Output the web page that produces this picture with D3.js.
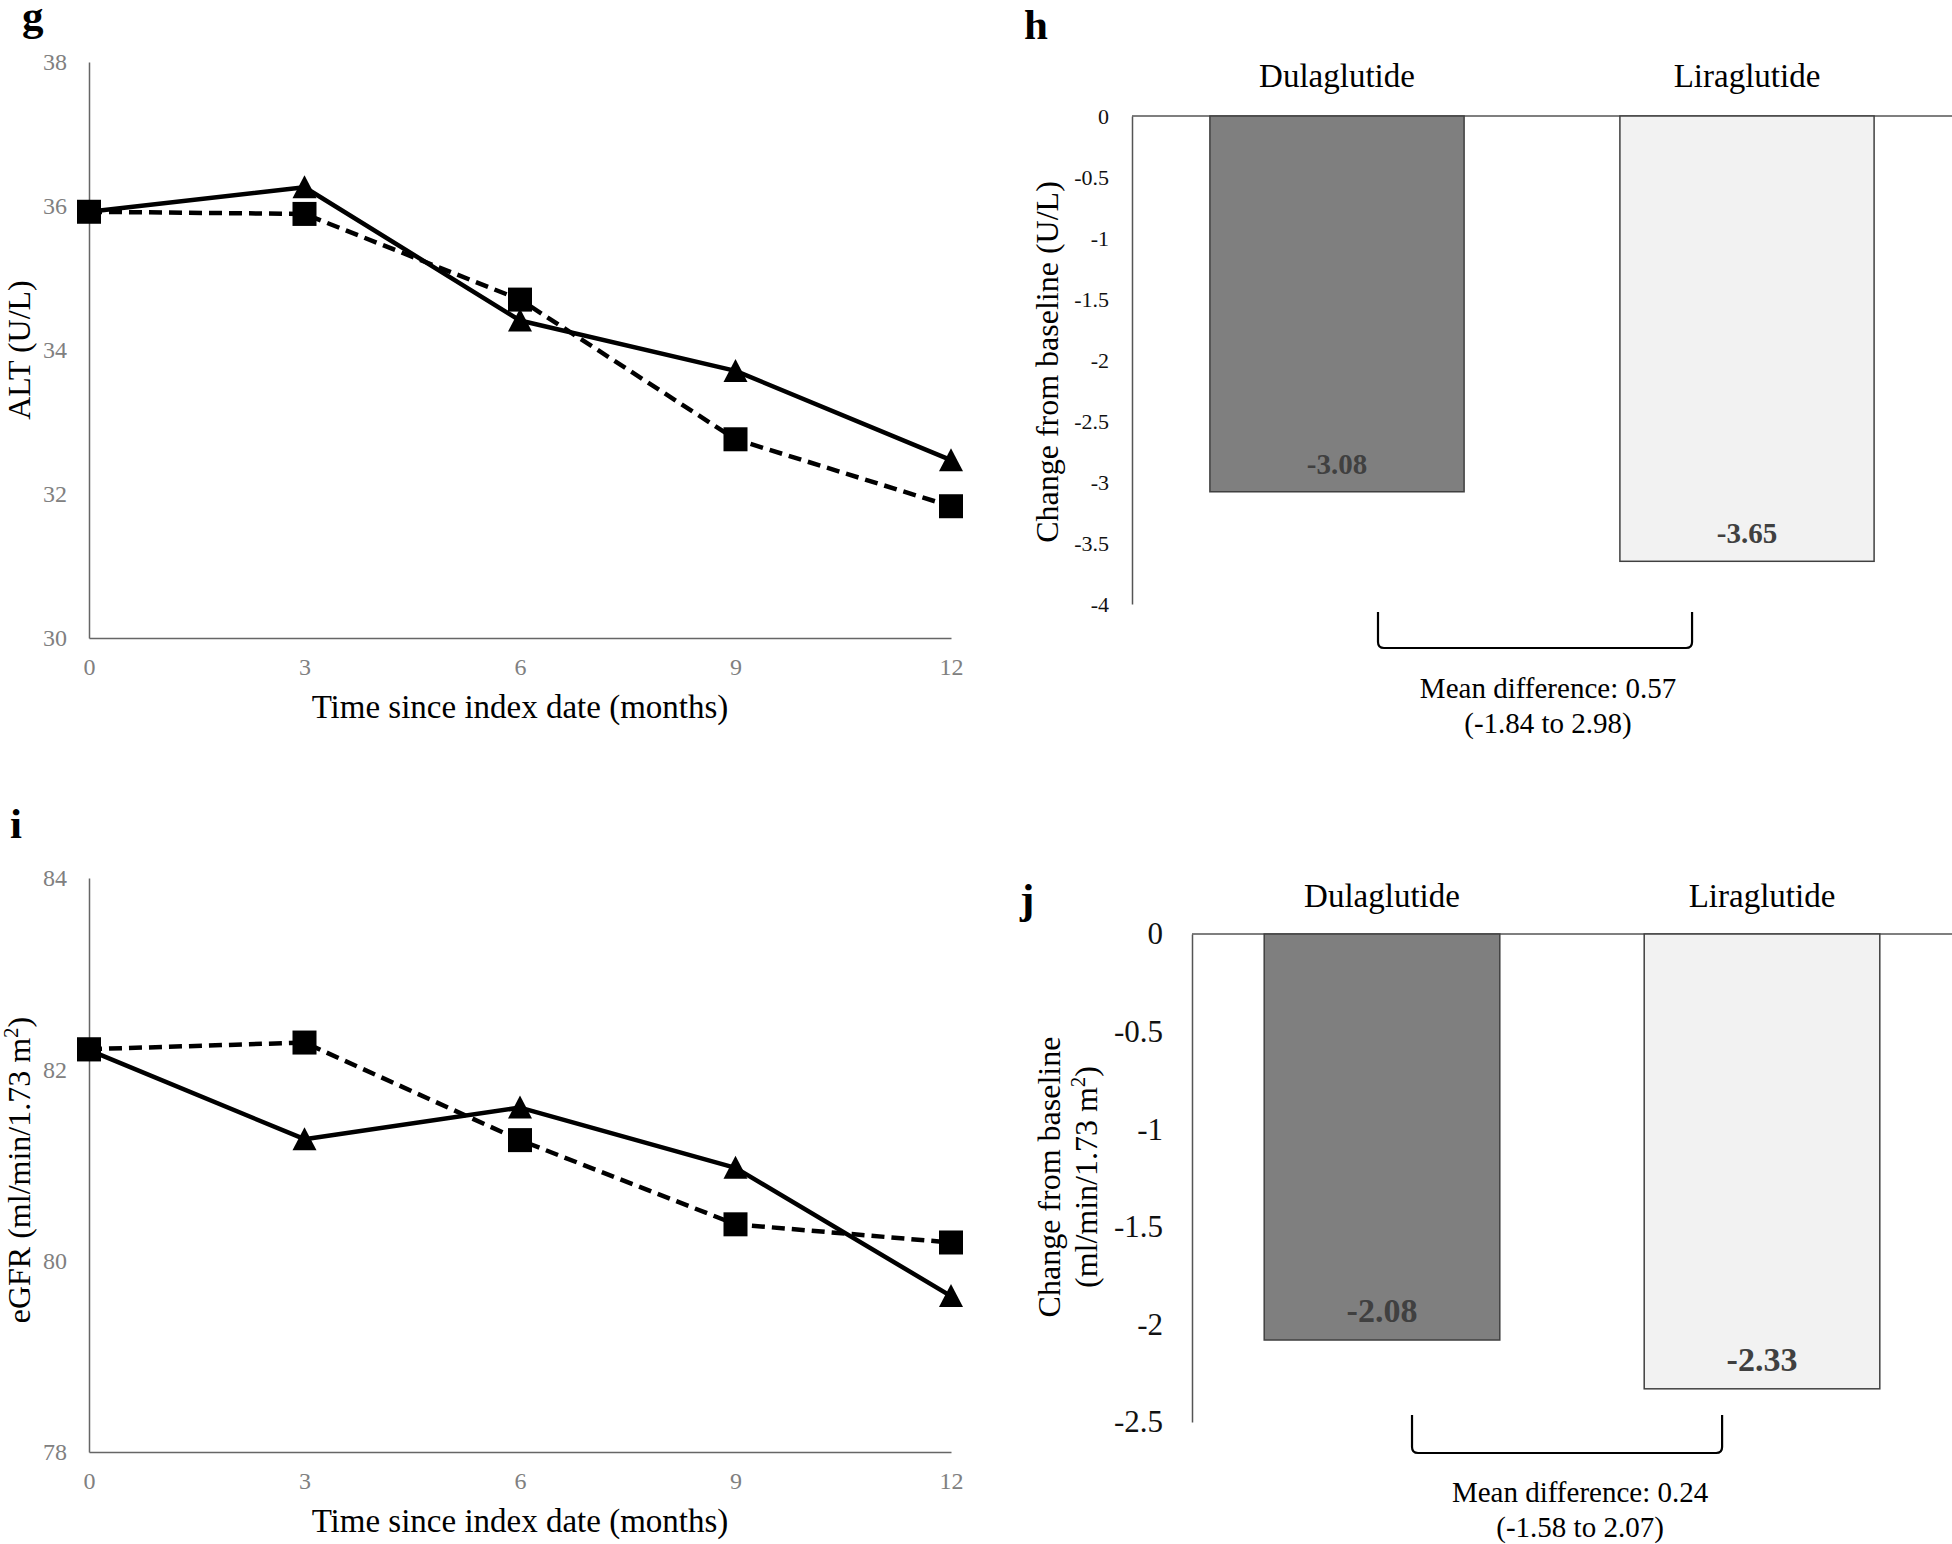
<!DOCTYPE html>
<html>
<head>
<meta charset="utf-8">
<script src="https://cdn.jsdelivr.net/npm/d3@7"></script>
<style>
  html, body { margin: 0; padding: 0; background: #fff; }
  svg { display: block; }
</style>
</head>
<body>
<script>
// Data
const months = [0, 3, 6, 9, 12];

// ALT (U/L) over time: solid line with triangles, dashed line with squares
const altSolid = [35.92, 36.26, 34.41, 33.71, 32.47];
const altDashed = [35.92, 35.89, 34.70, 32.76, 31.83];
const altTicks = [30, 32, 34, 36, 38];

// eGFR over time
const egfrSolid = [82.20, 81.27, 81.60, 80.97, 79.63];
const egfrDashed = [82.21, 82.28, 81.26, 80.38, 80.19];
const egfrTicks = [78, 80, 82, 84];

// Change from baseline
const drugs = ["Dulaglutide", "Liraglutide"];
const altChange = [-3.08, -3.65];
const egfrChange = [-2.08, -2.33];
const altChangeTicks = [0, -0.5, -1, -1.5, -2, -2.5, -3, -3.5, -4];
const egfrChangeTicks = [0, -0.5, -1, -1.5, -2, -2.5];

const altMeanDiff = ["Mean difference: 0.57", "(-1.84 to 2.98)"];
const egfrMeanDiff = ["Mean difference: 0.24", "(-1.58 to 2.07)"];

const FONT = "'Liberation Serif', 'Times New Roman', serif";

const svg = d3.select("body")
  .append("svg")
  .attr("width", 1952)
  .attr("height", 1544)
  .style("font-family", FONT);

svg.append("rect").attr("width", 1952).attr("height", 1544).attr("fill", "#fff");

// Panel letters
const letters = [
  { t: "g", x: 22, y: 30 },
  { t: "h", x: 1024, y: 39 },
  { t: "i", x: 10, y: 838 },
  { t: "j", x: 1020, y: 913 }
];
svg.selectAll("text.letter")
  .data(letters)
  .enter()
  .append("text")
  .attr("class", "letter")
  .attr("x", d => d.x)
  .attr("y", d => d.y)
  .attr("font-size", 43)
  .attr("font-weight", "bold")
  .text(d => d.t);

// Line chart panel (g, i)
function linePanel(opt) {
  const x = d3.scaleLinear().domain([0, 12]).range([89, 951]);
  const y = d3.scaleLinear().domain(opt.yDomain).range([opt.bottom, opt.top]);
  const g = svg.append("g");

  const yAxis = g.append("g")
    .attr("transform", `translate(${x(0)},0)`)
    .call(d3.axisLeft(y).tickValues(opt.yTicks).tickSize(0).tickPadding(22).tickFormat(d3.format("d")));
  const xAxis = g.append("g")
    .attr("transform", `translate(0,${opt.bottom})`)
    .call(d3.axisBottom(x).tickValues(months).tickSize(0).tickPadding(20).tickFormat(d3.format("d")));

  [yAxis, xAxis].forEach(a => {
    a.select(".domain").attr("stroke", "#666").attr("stroke-width", 1.5);
    a.selectAll("text")
      .attr("font-family", FONT)
      .attr("font-size", 24)
      .attr("fill", "#808080");
  });

  const line = d3.line().x((d, i) => x(months[i])).y(d => y(d));

  g.append("path")
    .datum(opt.solid)
    .attr("d", line)
    .attr("fill", "none")
    .attr("stroke", "#000")
    .attr("stroke-width", 4.5)
    .attr("stroke-linejoin", "round");

  g.append("path")
    .datum(opt.dashed)
    .attr("d", line)
    .attr("fill", "none")
    .attr("stroke", "#000")
    .attr("stroke-width", 4.5)
    .attr("stroke-dasharray", "13,7");

  // triangles
  g.selectAll("path.tri")
    .data(opt.solid)
    .enter()
    .append("path")
    .attr("class", "tri")
    .attr("transform", (d, i) => `translate(${x(months[i])},${y(d)})`)
    .attr("d", "M0,-12L12,11L-12,11Z")
    .attr("fill", "#000");

  // squares
  g.selectAll("rect.sq")
    .data(opt.dashed)
    .enter()
    .append("rect")
    .attr("class", "sq")
    .attr("x", (d, i) => x(months[i]) - 12)
    .attr("y", d => y(d) - 12)
    .attr("width", 24)
    .attr("height", 24)
    .attr("fill", "#000");

  // axis titles
  g.append("text")
    .attr("x", 520)
    .attr("y", opt.bottom + 80)
    .attr("text-anchor", "middle")
    .attr("font-size", 33)
    .text("Time since index date (months)");

  const yt = g.append("text")
    .attr("transform", `translate(30,${opt.titleY}) rotate(-90)`)
    .attr("text-anchor", "middle")
    .attr("font-size", 32);
  opt.yTitle(yt);
}

linePanel({
  top: 62, bottom: 638, yDomain: [30, 38], yTicks: altTicks,
  solid: altSolid, dashed: altDashed, titleY: 350,
  yTitle: t => t.text("ALT (U/L)")
});

linePanel({
  top: 878, bottom: 1452, yDomain: [78, 84], yTicks: egfrTicks,
  solid: egfrSolid, dashed: egfrDashed, titleY: 1170,
  yTitle: t => {
    t.append("tspan").text("eGFR (ml/min/1.73 m");
    t.append("tspan").attr("dy", -12).attr("font-size", 21).text("2");
    t.append("tspan").attr("dy", 12).text(")");
  }
});

// Bar chart panel (h, j)
function barPanel(opt) {
  const x = d3.scaleBand().domain(drugs).range([opt.axisX, 1952]).paddingInner(0.38).paddingOuter(0.19);
  const y = d3.scaleLinear().domain([opt.ticks[opt.ticks.length - 1], 0]).range([opt.minY, opt.zeroY]);
  const g = svg.append("g");

  const yAxis = g.append("g")
    .attr("transform", `translate(${opt.axisX},0)`)
    .call(d3.axisLeft(y).tickValues(opt.ticks).tickSize(0).tickPadding(opt.tickPad).tickFormat(d => String(d)));
  yAxis.select(".domain").attr("stroke", "#555").attr("stroke-width", 1.5);
  yAxis.selectAll("text")
    .attr("font-family", FONT)
    .attr("font-size", opt.tickSize)
    .attr("fill", "#111");

  // zero line
  g.append("line")
    .attr("x1", opt.axisX)
    .attr("x2", 1952)
    .attr("y1", y(0))
    .attr("y2", y(0))
    .attr("stroke", "#555")
    .attr("stroke-width", 1.5);

  g.selectAll("rect.bar")
    .data(opt.values)
    .enter()
    .append("rect")
    .attr("class", "bar")
    .attr("x", (d, i) => x(drugs[i]))
    .attr("y", y(0))
    .attr("width", x.bandwidth())
    .attr("height", d => y(d) - y(0))
    .attr("fill", (d, i) => i === 0 ? "#7f7f7f" : "#f2f2f2")
    .attr("stroke", "#404040")
    .attr("stroke-width", 1.5);

  g.selectAll("text.val")
    .data(opt.values)
    .enter()
    .append("text")
    .attr("class", "val")
    .attr("x", (d, i) => x(drugs[i]) + x.bandwidth() / 2)
    .attr("y", d => y(d) - 18)
    .attr("text-anchor", "middle")
    .attr("font-size", opt.valSize)
    .attr("font-weight", "bold")
    .attr("fill", "#404040")
    .text(d => d.toFixed(2));

  g.selectAll("text.cat")
    .data(drugs)
    .enter()
    .append("text")
    .attr("class", "cat")
    .attr("x", d => x(d) + x.bandwidth() / 2)
    .attr("y", opt.catY)
    .attr("text-anchor", "middle")
    .attr("font-size", 33)
    .text(d => d);

  // bracket between the two bars
  const step = x.step();
  const c0 = x(drugs[0]) + x.bandwidth() / 2;
  const c1 = x(drugs[1]) + x.bandwidth() / 2;
  const left = c0 + opt.inset[0] * step;
  const right = c1 - opt.inset[1] * step;
  const r = 6;
  const b = opt.bracket;
  g.append("path")
    .attr("d", `M${left},${b[0]}V${b[1] - r}Q${left},${b[1]} ${left + r},${b[1]}H${right - r}Q${right},${b[1]} ${right},${b[1] - r}V${b[0]}`)
    .attr("fill", "none")
    .attr("stroke", "#000")
    .attr("stroke-width", 2.2);

  g.selectAll("text.mean")
    .data(opt.mean)
    .enter()
    .append("text")
    .attr("class", "mean")
    .attr("x", (left + right) / 2 + 13)
    .attr("y", (d, i) => opt.meanY + i * 35)
    .attr("text-anchor", "middle")
    .attr("font-size", 29)
    .text(d => d);

  // y title
  const yt = g.append("text")
    .attr("transform", `translate(${opt.titleX},${opt.titleY}) rotate(-90)`)
    .attr("text-anchor", "middle")
    .attr("font-size", 32);
  opt.yTitle(yt);
}

barPanel({
  axisX: 1132, zeroY: 116, minY: 604, ticks: altChangeTicks, values: altChange,
  tickSize: 22, tickPad: 23, valSize: 29, catY: 87,
  inset: [0.1, 0.134], bracket: [612, 648], mean: altMeanDiff, meanY: 698,
  titleX: 1058, titleY: 362,
  yTitle: t => t.text("Change from baseline (U/L)")
});

barPanel({
  axisX: 1192, zeroY: 934, minY: 1422, ticks: egfrChangeTicks, values: egfrChange,
  tickSize: 31, tickPad: 29, valSize: 34, catY: 907,
  inset: [0.079, 0.105], bracket: [1415, 1453], mean: egfrMeanDiff, meanY: 1502,
  titleX: 1060, titleY: 1177,
  yTitle: t => {
    t.append("tspan").attr("x", 0).attr("y", 0).text("Change from baseline");
    const l2 = t.append("tspan").attr("x", 0).attr("y", 37);
    l2.append("tspan").text("(ml/min/1.73 m");
    t.append("tspan").attr("dy", -12).attr("font-size", 21).text("2");
    t.append("tspan").attr("dy", 12).text(")");
  }
});
</script>
</body>
</html>
